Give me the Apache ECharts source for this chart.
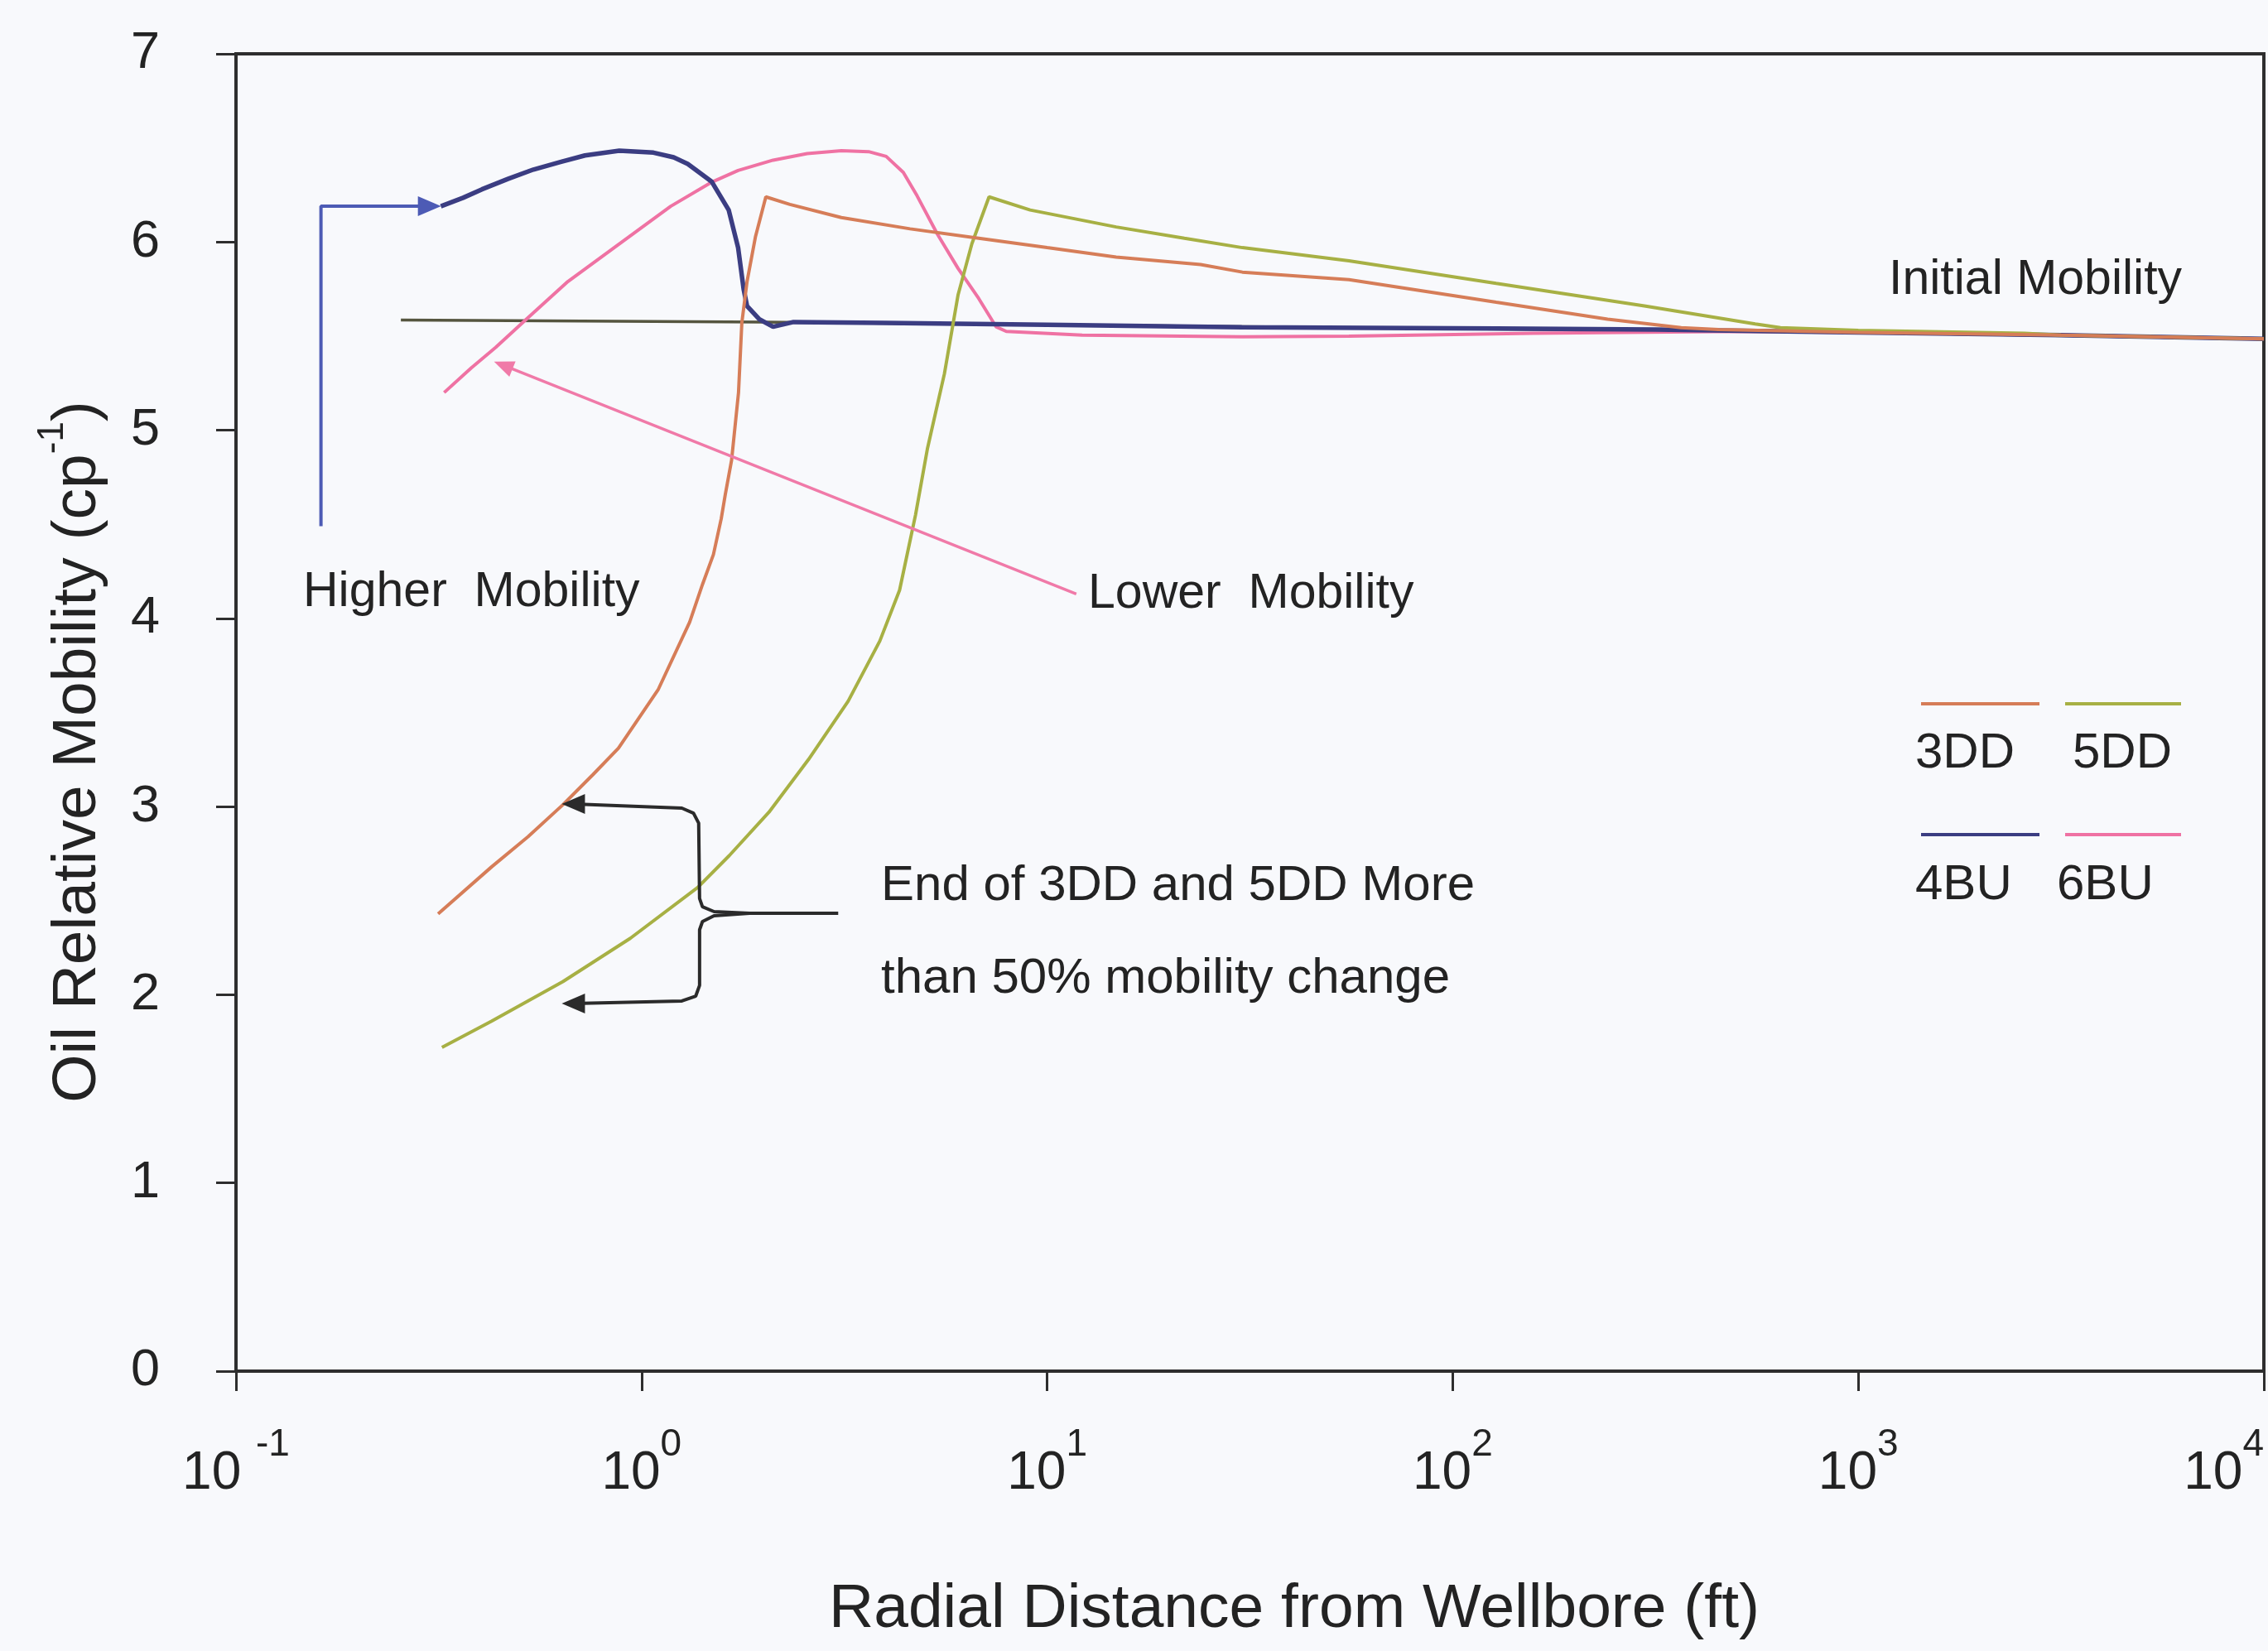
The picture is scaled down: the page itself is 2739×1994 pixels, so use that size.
<!DOCTYPE html>
<html>
<head>
<meta charset="utf-8">
<title>Oil Relative Mobility vs Radial Distance</title>
<script src="https://cdn.jsdelivr.net/npm/echarts@6/dist/echarts.min.js"></script>
<style>
  html, body { margin: 0; padding: 0; background: #f8f9fc; }
  #chart { width: 2739px; height: 1994px; }
</style>
</head>
<body>
<div id="chart"></div>
<script>
// Tick labels: powers of ten on the distance axis, plain integers on the mobility axis
const xTickBase = '10';
const xTickExponents = ['-1', '0', '1', '2', '3', '4'];
const yTickValues = [0, 1, 2, 3, 4, 5, 6, 7];

// Series names as shown in the key
const seriesNames = ['3DD', '5DD', '4BU', '6BU'];

// [radial distance (ft), oil relative mobility (1/cp)]
const dd3 = [
  [0.315, 2.43], [0.427, 2.68], [0.525, 2.84], [0.640, 3.01], [0.759, 3.17], [0.877, 3.31],
  [1.098, 3.62], [1.314, 3.98], [1.413, 4.18], [1.504, 4.34], [1.572, 4.53], [1.609, 4.66],
  [1.667, 4.84], [1.734, 5.20], [1.767, 5.57], [1.820, 5.79], [1.910, 6.03], [2.025, 6.24],
  [2.321, 6.20], [3.109, 6.13], [4.593, 6.07], [6.783, 6.02], [10.0, 5.97], [14.8, 5.92],
  [23.9, 5.88], [30.3, 5.84], [55.5, 5.80], [128, 5.68], [241, 5.59], [366, 5.545],
  [452, 5.535], [1000, 5.52], [3162, 5.505], [10000, 5.485]
];
const dd5 = [
  [0.322, 1.72], [0.427, 1.86], [0.640, 2.07], [0.938, 2.30], [1.375, 2.57], [1.646, 2.74],
  [2.061, 2.97], [2.580, 3.25], [3.231, 3.56], [3.868, 3.88], [4.327, 4.15], [4.737, 4.55],
  [5.066, 4.90], [5.581, 5.30], [6.032, 5.72], [6.522, 5.99], [7.191, 6.24], [9.08, 6.17],
  [14.8, 6.08], [21.8, 6.02], [30.3, 5.97], [55.5, 5.90], [128, 5.78], [297, 5.66],
  [557, 5.565], [643, 5.545], [1000, 5.53], [2570, 5.515], [3162, 5.505], [10000, 5.485]
];
const bu4 = [
  [0.320, 6.19], [0.363, 6.235], [0.404, 6.28], [0.468, 6.335], [0.541, 6.385], [0.631, 6.425],
  [0.725, 6.46], [0.881, 6.485], [1.07, 6.475], [1.20, 6.45], [1.30, 6.415], [1.49, 6.32],
  [1.64, 6.17], [1.73, 5.97], [1.785, 5.75], [1.82, 5.66], [1.95, 5.59], [2.11, 5.55],
  [2.37, 5.575], [3.98, 5.57], [10, 5.56], [30.2, 5.547], [128, 5.54], [316, 5.535],
  [1000, 5.52], [3162, 5.505], [10000, 5.485]
];
const bu6 = [
  [0.326, 5.20], [0.380, 5.33], [0.437, 5.44], [0.520, 5.59], [0.658, 5.79], [0.881, 5.99],
  [1.18, 6.19], [1.48, 6.315], [1.73, 6.38], [2.11, 6.435], [2.56, 6.47], [3.11, 6.485],
  [3.63, 6.48], [4.01, 6.455], [4.42, 6.37], [4.78, 6.245], [5.37, 6.04], [6.03, 5.86],
  [6.78, 5.70], [7.48, 5.55], [7.93, 5.525], [12.2, 5.505], [30.3, 5.496], [55.5, 5.50],
  [158, 5.515], [501, 5.525], [1000, 5.52], [3162, 5.505], [10000, 5.485]
];
const initialMobility = [[0.255, 5.585], [2, 5.575], [10, 5.56], [1000, 5.52], [10000, 5.485]];

// Callout leaders, in the same (ft, 1/cp) units
const higherLeader = [[0.162, 4.49], [0.162, 6.19], [0.300, 6.19]];
const lowerLeader = [[11.8, 4.13], [0.456, 5.345]];
const braceUpper = [[0.679, 3.014], [1.257, 2.992], [1.343, 2.965], [1.383, 2.912], [1.390, 2.512],
  [1.413, 2.468], [1.509, 2.442], [1.846, 2.433], [3.054, 2.433]];
const braceLower = [[1.846, 2.433], [1.509, 2.420], [1.413, 2.389], [1.390, 2.345], [1.390, 2.050],
  [1.360, 1.993], [1.257, 1.967], [0.679, 1.953]];

const FONT = '"Liberation Sans", Arial, Helvetica, sans-serif';
const INK = '#232323';
const colors = { '3DD': '#d67d58', '5DD': '#a7b044', '4BU': '#3b3d82', '6BU': '#ef72a3' };

// Put an arrowhead on the last (or first) point of a leader
function withHead(points, rotate, size) {
  return points.map((p, i) => i === points.length - 1
    ? { value: p, symbol: 'triangle', symbolSize: size, symbolRotate: rotate }
    : { value: p });
}
function withTail(points, rotate, size) {
  return points.map((p, i) => i === 0
    ? { value: p, symbol: 'triangle', symbolSize: size, symbolRotate: rotate }
    : { value: p });
}

function curve(name, data, width, z) {
  return {
    name, type: 'line', data, symbol: 'none', z,
    lineStyle: { color: colors[name], width },
    itemStyle: { color: colors[name] }
  };
}
function leader(id, data, color, width) {
  return {
    id, type: 'line', data, symbol: 'none', z: 6,
    lineStyle: { color, width }, itemStyle: { color, borderWidth: 0 }
  };
}

const chart = echarts.init(document.getElementById('chart'), null, { renderer: 'canvas' });

function text(str, x, y, size, align) {
  return {
    type: 'text', x, y, silent: true,
    style: { text: str, fontSize: size, fontFamily: FONT, fill: INK, align: align || 'left', verticalAlign: 'middle' }
  };
}
function keyLine(x1, x2, y, color) {
  return { type: 'line', silent: true, shape: { x1, y1: y, x2, y2: y }, style: { stroke: color, lineWidth: 4 } };
}

chart.setOption({
  animation: false,
  backgroundColor: '#f8f9fc',
  grid: {
    left: 285, right: 5, top: 65, bottom: 338,
    show: true, borderColor: '#2e2e2e', borderWidth: 4, backgroundColor: 'transparent'
  },
  xAxis: {
    type: 'log', logBase: 10, min: 0.1, max: 10000,
    axisLine: { lineStyle: { color: '#2e2e2e', width: 4 } },
    axisTick: { show: true, inside: false, length: 24, lineStyle: { color: '#2e2e2e', width: 3 } },
    minorTick: { show: false },
    splitLine: { show: false },
    axisLabel: {
      margin: 66,
      fontSize: 64, fontFamily: FONT, color: INK,
      alignMaxLabel: 'right',
      formatter: function (v) {
        const exp = xTickExponents[Math.round(Math.log10(v)) + 1];
        return '{b|' + xTickBase + '}' + (exp.charAt(0) === '-' ? ' ' : '') + '{s|' + exp + '}';
      },
      rich: {
        b: { fontSize: 64, lineHeight: 90, verticalAlign: 'bottom', fontFamily: FONT, color: INK },
        s: { fontSize: 46, lineHeight: 22, verticalAlign: 'top', fontFamily: FONT, color: INK }
      }
    }
  },
  yAxis: {
    type: 'value', min: yTickValues[0], max: yTickValues[yTickValues.length - 1], interval: 1,
    axisLine: { show: true, lineStyle: { color: '#2e2e2e', width: 4 } },
    axisTick: { show: true, inside: false, length: 24, lineStyle: { color: '#2e2e2e', width: 3 } },
    splitLine: { show: false },
    axisLabel: { margin: 92, fontSize: 63, fontFamily: FONT, color: INK }
  },
  series: [
    { id: 'initial', type: 'line', data: initialMobility, symbol: 'none', z: 1,
      lineStyle: { color: '#55553f', width: 3.5 } },
    curve('6BU', bu6, 4, 2),
    curve('4BU', bu4, 5.5, 3),
    curve('5DD', dd5, 4, 4),
    curve('3DD', dd3, 4, 5),
    leader('higher', withHead(higherLeader, -90, [24, 28]), '#4d5bb5', 4),
    leader('lower', withHead(lowerLeader, 68, [20, 24]), '#f07aa8', 3.5),
    leader('braceUpper', withTail(braceUpper, 90, [24, 28]), '#2b2b2b', 4),
    leader('braceLower', withHead(braceLower, 90, [24, 28]), '#2b2b2b', 4)
  ],
  graphic: [
    // axis titles
    {
      type: 'text', x: 87, y: 908, rotation: Math.PI / 2, silent: true,
      style: {
        text: '{a|Oil Relative Mobility (cp}{s|-1}{a|)}',
        align: 'center', verticalAlign: 'middle', fill: INK,
        rich: {
          a: { fontSize: 75, lineHeight: 90, verticalAlign: 'bottom', fontFamily: FONT, fill: INK },
          s: { fontSize: 44, lineHeight: 44, verticalAlign: 'top', fontFamily: FONT, fill: INK }
        }
      }
    },
    text('Radial Distance from Wellbore (ft)', 1563, 1944, 75, 'center'),
    // callouts
    text('Higher  Mobility', 366, 716, 59),
    text('Lower  Mobility', 1314, 718, 59),
    text('Initial Mobility', 2281, 339, 59),
    text('End of 3DD and 5DD More', 1064, 1070, 60),
    text('than 50% mobility change', 1064, 1182, 60),
    // key
    keyLine(2320, 2463, 850, colors['3DD']),
    keyLine(2494, 2634, 850, colors['5DD']),
    keyLine(2320, 2463, 1008, colors['4BU']),
    keyLine(2494, 2634, 1008, colors['6BU']),
    text(seriesNames[0], 2313, 910, 60),
    text(seriesNames[1], 2503, 910, 60),
    text(seriesNames[2], 2313, 1069, 60),
    text(seriesNames[3], 2484, 1069, 60)
  ]
});
</script>
</body>
</html>
